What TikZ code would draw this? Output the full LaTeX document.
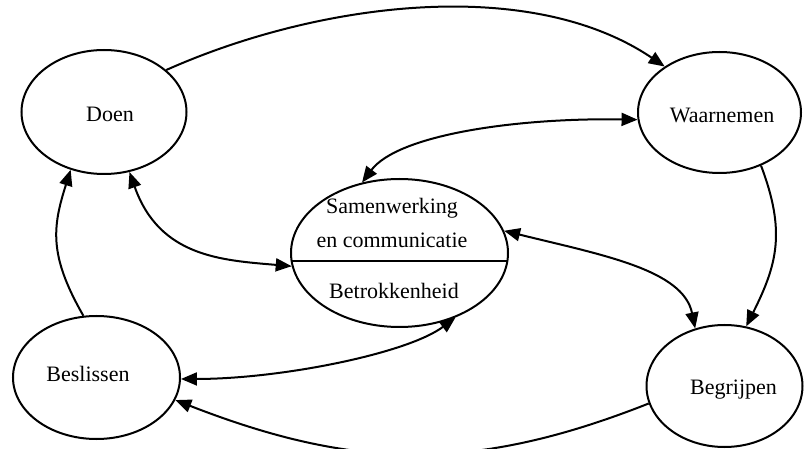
\documentclass[tikz,border=0pt]{standalone}
\usepackage{fontspec}
\setmainfont{Liberation Serif}
\usetikzlibrary{shapes.geometric,arrows.meta}
\tikzset{
    stage/.style={ellipse, draw, line width=2pt, inner sep=0pt},
    caption/.style={font=\fontsize{22}{34}\selectfont, align=center, inner sep=0pt},
    link/.style={line width=2pt},
    >={Triangle[length=16pt,width=13pt]}
}
\begin{document}
\begin{tikzpicture}[x=1pt,y=-1pt]
\useasboundingbox (0,0) rectangle (804,449);

% the five stages
\node[stage, minimum width=165pt, minimum height=124pt] (doen) at (104,112) {};
\node[stage, minimum width=163pt, minimum height=121pt] (waar) at (719.5,112.5) {};
\node[stage, minimum width=167pt, minimum height=123pt] (beslis) at (96.5,377.5) {};
\node[stage, minimum width=156pt, minimum height=122pt] (begrip) at (724.5,386) {};
\node[stage, minimum width=217pt, minimum height=148pt] (samen) at (399.5,253) {};
\draw[link] (samen.184) -- (samen.-4);

% texts
\node[caption] (doenText) at (110,114.5) {Doen};
\node[caption] (waarText) at (722,115) {Waarnemen};
\node[caption] (beslisText) at (88,374) {Beslissen};
\node[caption] (begripText) at (733.5,390) {Begrijpen};
\node[caption] (samenTop) at (392,223) {Samenwerking\\en communicatie};
\node[caption] (samenBot) at (394,291) {Betrokkenheid};

% outer cycle
\draw[link,->] (doen.34) .. controls +(150,-67) and +(-136,-92) .. (waar.140);
\draw[link,->] (waar.-52) .. controls +(25,66) and +(31,-62) .. (begrip.70);
\draw[link,->] (begrip.193) .. controls +(-177,70) and +(177,69) .. (beslis.-16);
\draw[link,->] (beslis.102) .. controls +(-35,-61) and +(-18,57) .. (doen.-120);

% links with the centre
\draw[link,<->] (doen.-67) .. controls +(30,85) and +(-70,-6) .. (samen.187);
\draw[link,<->] (samen.118) .. controls +(36,-48) and +(-120,-2) .. (waar.185);
\draw[link,<->] (samen.12) .. controls +(97,24) and +(-12,-59) .. (begrip.117);
\draw[link,<->] (samen.-49) .. controls +(-48,36) and +(100,0) .. (beslis.-1);

\end{tikzpicture}
\end{document}
